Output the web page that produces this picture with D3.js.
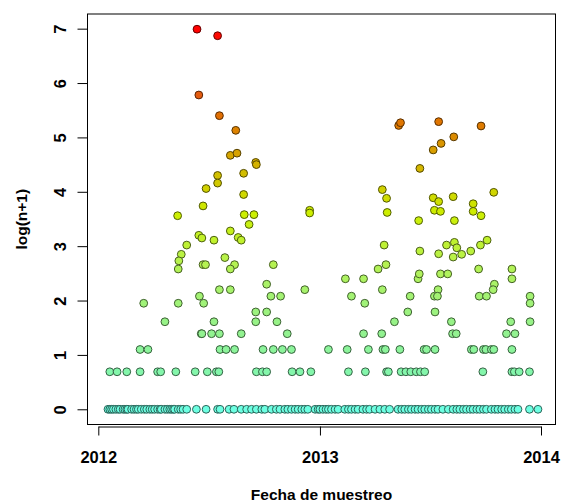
<!DOCTYPE html>
<html>
<head>
<meta charset="utf-8">
<script src="https://cdn.jsdelivr.net/npm/d3@7"></script>
<style>
  body { margin: 0; background: #fff; }
  text { font-family: "Liberation Sans", Arial, sans-serif; font-weight: bold; }
</style>
</head>
<body>
<script>

// muestras con n > 0, 2012
var fechas2012 = [
 "2012-06-12","2012-07-16","2012-06-15","2012-07-19","2012-08-15","2012-08-06","2012-08-17","2012-09-17","2012-09-18",
 "2012-07-16","2012-08-28","2012-07-16","2012-06-27","2012-08-28","2012-06-22","2012-05-11","2012-08-29","2012-09-14","2012-12-15","2012-12-15",
 "2012-09-06","2012-06-15","2012-06-20","2012-07-10","2012-08-06","2012-08-19","2012-08-24","2012-05-26","2012-05-17","2012-05-13",
 "2012-05-12","2012-06-22","2012-06-26","2012-07-28","2012-08-13","2012-08-06","2012-10-16",
 "2012-07-19","2012-08-06","2012-10-05","2012-12-07","2012-06-16","2012-06-23","2012-10-12","2012-10-28","2012-03-16","2012-05-12",
 "2012-09-17","2012-10-05","2012-04-20","2012-07-10","2012-09-17","2012-10-22",
 "2012-06-19","2012-06-20","2012-07-06","2012-07-19","2012-08-24","2012-11-08",
 "2012-03-10","2012-03-23","2012-07-20","2012-07-30","2012-08-13","2012-09-29","2012-10-16","2012-10-31","2012-11-15",
 "2012-01-20","2012-02-01","2012-02-17","2012-03-10","2012-04-08","2012-04-13","2012-05-08","2012-06-09","2012-06-29",
 "2012-07-14","2012-07-18","2012-09-18","2012-09-28","2012-10-05","2012-11-16","2012-11-29","2012-12-17"
];
var valores2012 = [
 6.99,6.87,5.78,5.40,5.13,4.67,4.71,4.54,4.50,
 4.30,4.34,4.16,4.06,3.95,3.74,3.56,3.58,3.58,3.66,3.61,
 3.40,3.20,3.15,3.11,3.28,3.16,3.11,3.02,2.85,2.73,
 2.58,2.66,2.66,2.79,2.66,2.58,2.66,
 2.20,2.20,2.30,2.20,2.08,1.95,2.08,2.08,1.95,1.95,
 1.79,1.79,1.61,1.61,1.61,1.61,
 1.39,1.39,1.39,1.39,1.39,1.39,
 1.10,1.10,1.10,1.10,1.10,1.10,1.10,1.10,1.10,
 0.69,0.69,0.69,0.69,0.69,0.69,0.69,0.69,0.69,
 0.69,0.69,0.69,0.69,0.69,0.69,0.69,0.69
];

// muestras con n > 0, 2013
var fechas2013 = [
 "2013-05-11","2013-05-14","2013-07-16","2013-09-24","2013-08-10","2013-07-20","2013-07-07","2013-06-15",
 "2013-04-14","2013-04-21","2013-04-22","2013-07-07","2013-07-16","2013-08-09","2013-10-15","2013-07-09","2013-07-19","2013-09-11","2013-09-11","2013-09-24","2013-06-13","2013-08-11",
 "2013-04-17","2013-06-15","2013-07-16","2013-07-29","2013-08-11","2013-08-15","2013-08-23","2013-08-09","2013-09-07","2013-09-23","2013-10-04",
 "2013-04-07","2013-04-20","2013-02-12","2013-03-14","2013-06-12","2013-06-14","2013-07-19","2013-07-31","2013-09-20","2013-11-14","2013-11-14","2013-10-16",
 "2013-10-14","2013-04-14","2013-07-15","2013-02-22","2013-05-30","2013-07-09","2013-07-14","2013-09-21","2013-10-03","2013-12-14",
 "2013-03-16","2013-12-14","2013-05-26","2013-07-10","2013-05-04","2013-08-06","2013-11-12","2013-12-14",
 "2013-03-14","2013-04-13","2013-08-08","2013-08-14","2013-11-05","2013-11-19",
 "2013-01-15","2013-02-15","2013-03-22","2013-04-15","2013-04-19","2013-05-13","2013-06-22","2013-06-26",
 "2013-07-10","2013-09-08","2013-09-12","2013-09-28","2013-10-02","2013-10-11","2013-10-15","2013-11-14",
 "2013-02-17","2013-03-17","2013-04-21","2013-04-24","2013-05-15","2013-05-23","2013-05-31","2013-06-09",
 "2013-06-16","2013-06-23","2013-09-27","2013-11-14","2013-11-18","2013-11-26","2013-12-13"
];
var valores2013 = [
 5.22,5.27,5.29,5.21,5.01,4.89,4.77,4.43,
 4.04,3.88,3.62,3.89,3.82,3.91,3.99,3.66,3.64,3.78,3.64,3.56,3.47,3.47,
 3.02,2.91,2.86,3.02,3.07,2.97,2.85,2.80,2.91,3.02,3.11,
 2.58,2.66,2.40,2.40,2.40,2.49,2.49,2.49,2.58,2.58,2.40,2.30,
 2.20,2.20,2.20,2.08,2.08,2.08,2.08,2.08,2.08,2.08,
 1.95,1.95,1.79,1.79,1.61,1.61,1.61,1.61,
 1.39,1.39,1.39,1.39,1.39,1.39,
 1.10,1.10,1.10,1.10,1.10,1.10,1.10,1.10,
 1.10,1.10,1.10,1.10,1.10,1.10,1.10,1.10,
 0.69,0.69,0.69,0.69,0.69,0.69,0.69,0.69,
 0.69,0.69,0.69,0.69,0.69,0.69,0.69
];

// muestras con n = 0
var fechasCero = [
 "2012-01-17","2012-01-20","2012-01-23","2012-01-26","2012-01-30","2012-02-03","2012-02-06","2012-02-11","2012-02-14","2012-02-17",
 "2012-02-19","2012-02-25","2012-02-29","2012-03-04","2012-03-07","2012-03-12","2012-03-17","2012-03-21","2012-03-26","2012-03-30",
 "2012-04-03","2012-04-08","2012-04-12","2012-04-14","2012-04-20","2012-04-24","2012-04-28","2012-05-01","2012-05-04","2012-05-06",
 "2012-05-12","2012-05-16","2012-05-20","2012-05-26","2012-06-11","2012-06-27","2012-07-16","2012-07-20","2012-08-04","2012-08-12",
 "2012-08-24","2012-09-02","2012-09-10","2012-09-18","2012-09-27","2012-10-02","2012-10-13","2012-10-21","2012-10-27","2012-11-04",
 "2012-11-09","2012-11-15","2012-11-21","2012-11-26","2012-12-02","2012-12-07","2012-12-12","2012-12-24","2012-12-29",
 "2013-01-01","2013-01-06","2013-01-11","2013-01-15","2013-01-20","2013-01-26","2013-01-31","2013-02-11","2013-02-17","2013-02-22",
 "2013-02-28","2013-03-05","2013-03-13","2013-03-19","2013-03-24","2013-04-02","2013-04-10","2013-04-18","2013-04-26","2013-05-10",
 "2013-05-16","2013-05-21","2013-05-27","2013-06-01","2013-06-07","2013-06-12","2013-06-18","2013-06-23","2013-06-29","2013-07-04",
 "2013-07-10","2013-07-15","2013-07-23","2013-08-01","2013-08-09","2013-08-15","2013-08-20","2013-08-26","2013-08-31","2013-09-06",
 "2013-09-11","2013-09-17","2013-09-22","2013-09-28","2013-10-03","2013-10-11","2013-10-17","2013-10-22","2013-10-28","2013-11-02",
 "2013-11-08","2013-11-13","2013-11-19","2013-11-24","2013-12-13","2013-12-27"
];

var ticksX = ["2012-01-01", "2013-01-01", "2014-01-01"];
var ticksY = [0, 1, 2, 3, 4, 5, 6, 7];

var parse = d3.timeParse("%Y-%m-%d");

var datos = [];
fechasCero.forEach(function(f) { datos.push({fecha: parse(f), valor: 0}); });
fechas2012.forEach(function(f, i) { datos.push({fecha: parse(f), valor: valores2012[i]}); });
fechas2013.forEach(function(f, i) { datos.push({fecha: parse(f), valor: valores2013[i]}); });

var w = 561, h = 502;
var box = {left: 87.5, right: 555.5, top: 14, bottom: 424.5};

var svg = d3.select("body").append("svg")
  .attr("width", w)
  .attr("height", h);

var x = d3.scaleTime()
  .domain([parse(ticksX[0]), parse(ticksX[2])])
  .range([98.3, 541]);

var maxY = d3.max(datos, function(d) { return d.valor; });
var y = d3.scaleLinear()
  .domain([-0.04 * maxY, 1.04 * maxY])
  .range([box.bottom, box.top]);

var color = d3.scaleLinear()
  .domain([0, 0.7, 1.4, 2.1, 2.7, 3.6, 4.3, 4.8, 5.3, 5.8, 7])
  .range(["#6dffe2", "#84f6aa", "#92f290", "#a4f272", "#b6f250", "#cdef00", "#d2c000", "#d89c00", "#e07400", "#e35a10", "#ff0000"])
  .clamp(true);

// puntos
svg.append("g")
  .selectAll("circle")
  .data(datos)
  .enter()
  .append("circle")
  .attr("cx", function(d) { return x(d.fecha); })
  .attr("cy", function(d) { return y(d.valor); })
  .attr("r", 3.9)
  .attr("fill", function(d) { return color(d.valor); })
  .attr("stroke", function(d) { return d3.color(color(d.valor)).darker(2.6); })
  .attr("stroke-width", 1);

// caja
svg.append("rect")
  .attr("x", box.left)
  .attr("y", box.top)
  .attr("width", box.right - box.left)
  .attr("height", box.bottom - box.top)
  .attr("fill", "none")
  .attr("stroke", "#000")
  .attr("stroke-width", 1);

// eje x
var ejeX = svg.append("g")
  .attr("transform", "translate(0,426.5)")
  .call(d3.axisBottom(x)
    .tickValues(ticksX.map(parse))
    .tickFormat(d3.timeFormat("%Y"))
    .tickSize(9)
    .tickSizeOuter(0)
    .tickPadding(16));
ejeX.select(".domain").attr("stroke", "#000");
ejeX.selectAll("text")
  .attr("font-size", "16.5px")
  .attr("font-family", "Liberation Sans, Arial, sans-serif")
  .attr("fill", "#000");

// eje y
var ejeY = svg.append("g")
  .attr("transform", "translate(" + box.left + ",0)")
  .call(d3.axisLeft(y)
    .tickValues(ticksY)
    .tickFormat(d3.format("d"))
    .tickSize(10)
    .tickSizeOuter(0));
ejeY.select(".domain").remove();
ejeY.selectAll("text")
  .attr("x", 0)
  .attr("y", -22)
  .attr("dy", 0)
  .attr("text-anchor", "middle")
  .attr("transform", "rotate(-90)")
  .attr("font-size", "16.5px")
  .attr("font-family", "Liberation Sans, Arial, sans-serif")
  .attr("fill", "#000");

// titulos
svg.append("text")
  .attr("x", (box.left + box.right) / 2)
  .attr("y", 500)
  .attr("text-anchor", "middle")
  .attr("font-size", "15.5px")
  .text("Fecha de muestreo");

svg.append("text")
  .attr("transform", "translate(27," + (box.top + box.bottom) / 2 + ") rotate(-90)")
  .attr("text-anchor", "middle")
  .attr("font-size", "15.5px")
  .text("log(n+1)");

</script>
</body>
</html>
